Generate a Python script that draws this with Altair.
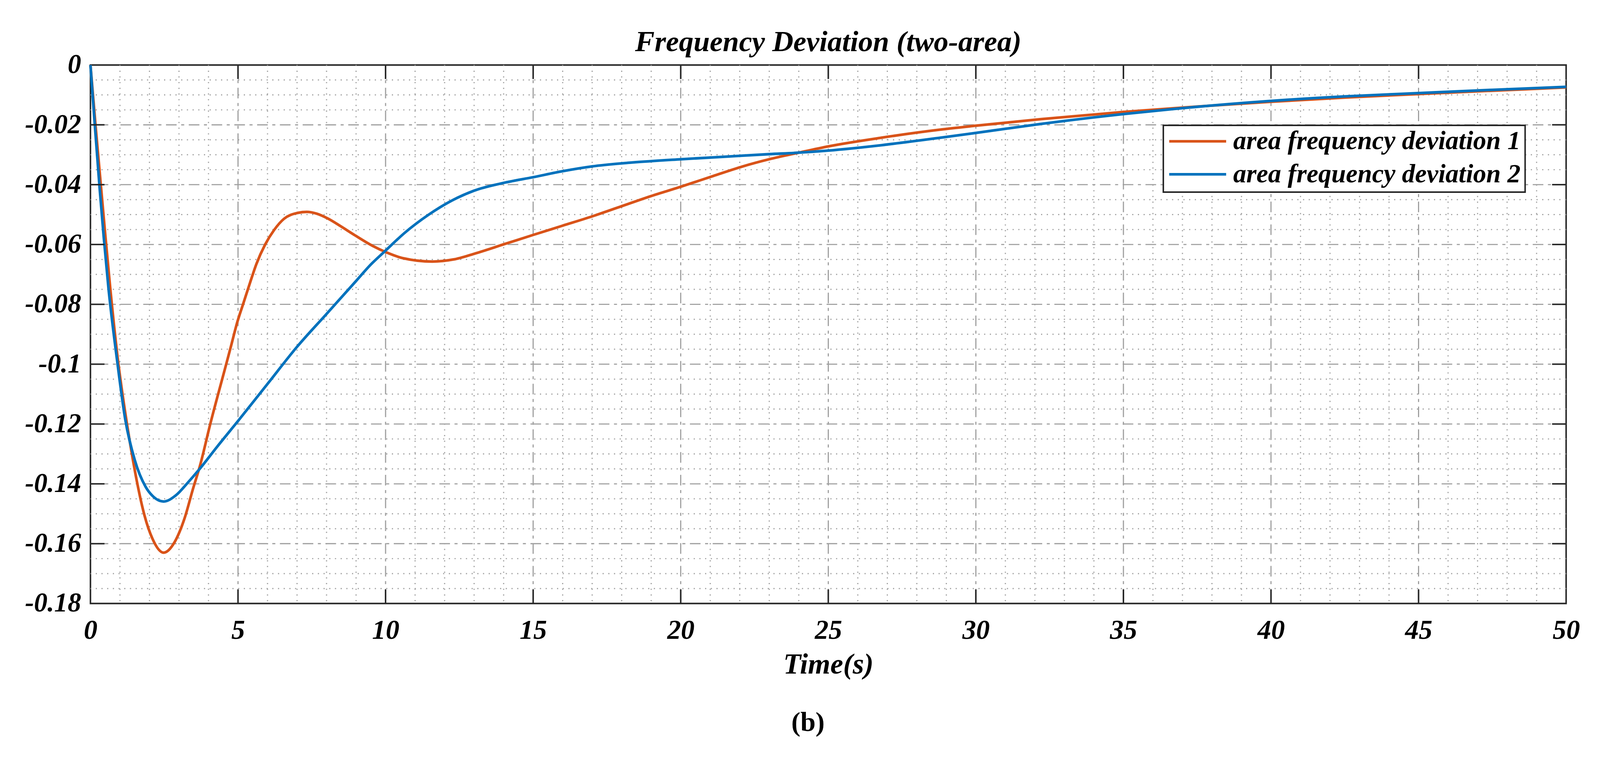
import altair as alt
import pandas as pd

# ---------------- data ----------------
t1 = [0, 0.18, 0.36, 0.5, 0.67, 0.93, 1.23, 1.43, 1.57, 1.83,
      2.1, 2.48, 2.85, 3.19, 3.48, 3.71, 4.06, 4.6, 4.78, 4.98,
      5.17, 5.41, 5.62, 5.92, 6.22, 6.56, 6.99, 7.33, 7.67, 8.06,
      8.48, 8.91, 9.55, 10.0, 10.6, 11.58, 12.3, 13.0, 14.05, 15,
      16, 17, 18, 19, 20, 21.1, 22.1, 23, 24, 25,
      26.8, 28.8, 30, 32.2, 35, 37.5, 40, 42.5, 45, 47.5, 50]
v1 = [0, -0.0210, -0.0410, -0.0565, -0.0745, -0.0985, -0.1195, -0.1315, -0.1390, -0.1505,
      -0.1583, -0.1630, -0.1595, -0.1515, -0.1415, -0.1340, -0.1200, -0.1000, -0.0933, -0.0858,
      -0.0800, -0.0727, -0.0666, -0.0600, -0.0552, -0.0514, -0.0495, -0.0491, -0.0497, -0.0514,
      -0.0539, -0.0566, -0.0604, -0.0625, -0.0646, -0.0657, -0.0650, -0.0631, -0.0598, -0.0568,
      -0.0537, -0.0506, -0.0472, -0.0438, -0.0407, -0.0371, -0.0339, -0.0315, -0.0293, -0.0272,
      -0.0243, -0.0216, -0.0203, -0.0181, -0.0157, -0.0139, -0.0123, -0.0109, -0.0097, -0.0086, -0.0075]

t2 = [0, 0.14, 0.31, 0.45, 0.61, 0.9, 1.18, 1.5, 1.87, 2.1,
      2.48, 2.9, 3.3, 3.71, 4.3, 5.0, 6.0, 7.0, 8.0, 8.5,
      9.0, 9.5, 9.95, 10.66, 11.45, 12.23, 13.0, 14.05, 15, 16,
      17, 18.35, 20, 21.6, 23, 24, 25, 26.8, 28.8, 30,
      32.2, 35, 36.7, 40, 42.5, 45, 47.5, 50]
v2 = [0, -0.0190, -0.0410, -0.0575, -0.0745, -0.0985, -0.1185, -0.1320, -0.1410, -0.1440,
      -0.1459, -0.1438, -0.1396, -0.1349, -0.1275, -0.1190, -0.1066, -0.0942, -0.0832, -0.0777,
      -0.0722, -0.0667, -0.0625, -0.0560, -0.0501, -0.0454, -0.0420, -0.0393, -0.0375, -0.0355,
      -0.0339, -0.0326, -0.0315, -0.0306, -0.0298, -0.0293, -0.0286, -0.0268, -0.0243, -0.0227,
      -0.0197, -0.0164, -0.0147, -0.0120, -0.0105, -0.0094, -0.0083, -0.0073]

series_names = ["area frequency deviation 1", "area frequency deviation 2"]
series_colors = ["#D95319", "#0072BD"]

x_major = [0, 5, 10, 15, 20, 25, 30, 35, 40, 45, 50]
y_major = [0, -0.02, -0.04, -0.06, -0.08, -0.1, -0.12, -0.14, -0.16, -0.18]
x_minor = [t for t in range(1, 50) if t % 5 != 0]
y_minor = [round(-0.005 * k, 3) for k in range(1, 36) if k % 4 != 0]

title_text = "Frequency Deviation (two-area)"
x_title = "Time(s)"
caption = "(b)"

# ---------------- layout ----------------
W, H = 3887, 1419
TICK = 37
FONT = "Liberation Serif"
AXIS_COLOR = "#262626"
GRID_COLOR = "#9e9e9e"

df = pd.DataFrame({
    "t": t1 + t2,
    "v": v1 + v2,
    "series": [series_names[0]] * len(t1) + [series_names[1]] * len(t2),
})

xs = alt.Scale(domain=[0, 50], nice=False, zero=False)
ys = alt.Scale(domain=[-0.18, 0], nice=False, zero=False)

x_axis = alt.Axis(values=x_major, labelExpr="'' + datum.value", title=x_title,
                  grid=False, ticks=False, domain=False,
                  labelFont=FONT, labelFontSize=72, labelFontStyle="italic",
                  labelFontWeight="bold", labelColor="black", labelPadding=36,
                  labelFlush=False, labelOverlap=False,
                  titleFont=FONT, titleFontSize=76, titleFontStyle="italic",
                  titleFontWeight="bold", titleColor="black", titlePadding=17)
y_axis = alt.Axis(values=y_major, labelExpr="'' + datum.value", title=None,
                  grid=False, ticks=False, domain=False,
                  labelFont=FONT, labelFontSize=71, labelFontStyle="italic",
                  labelFontWeight="bold", labelColor="black", labelPadding=25,
                  labelOverlap=False, labelFlush=False)

X = lambda: alt.X("t:Q", scale=xs, axis=x_axis)
Y = lambda: alt.Y("v:Q", scale=ys, axis=y_axis)

minor_x = alt.Chart(pd.DataFrame({"t": x_minor})).mark_rule(
    color=GRID_COLOR, strokeWidth=3, strokeDash=[3, 12]).encode(x=X())
minor_y = alt.Chart(pd.DataFrame({"v": y_minor})).mark_rule(
    color=GRID_COLOR, strokeWidth=3, strokeDash=[3, 12]).encode(y=Y())
major_x = alt.Chart(pd.DataFrame({"t": x_major[1:-1]})).mark_rule(
    color=GRID_COLOR, strokeWidth=3, strokeDash=[28, 12, 8, 12]).encode(x=X())
major_y = alt.Chart(pd.DataFrame({"v": y_major[1:-1]})).mark_rule(
    color=GRID_COLOR, strokeWidth=3, strokeDash=[28, 12, 8, 12]).encode(y=Y())

xt = pd.DataFrame({"t": x_major[1:-1]})
yt = pd.DataFrame({"v": y_major[1:-1]})
tick_b = alt.Chart(xt).mark_rule(color=AXIS_COLOR, strokeWidth=4).encode(
    x=X(), y=alt.value(H), y2=alt.value(H - TICK))
tick_t = alt.Chart(xt).mark_rule(color=AXIS_COLOR, strokeWidth=4).encode(
    x=X(), y=alt.value(0), y2=alt.value(TICK))
tick_l = alt.Chart(yt).mark_rule(color=AXIS_COLOR, strokeWidth=4).encode(
    y=Y(), x=alt.value(0), x2=alt.value(TICK))
tick_r = alt.Chart(yt).mark_rule(color=AXIS_COLOR, strokeWidth=4).encode(
    y=Y(), x=alt.value(W - TICK), x2=alt.value(W))

lines = alt.Chart(df).mark_line(strokeWidth=7, interpolate="monotone").encode(
    x=X(), y=Y(),
    color=alt.Color("series:N",
                    scale=alt.Scale(domain=series_names, range=series_colors),
                    legend=alt.Legend(title=None, orient="none", legendX=2826, legendY=159,
                                      symbolType="stroke", symbolSize=22500,
                                      symbolStrokeWidth=7, labelFont=FONT,
                                      labelFontSize=69, labelFontStyle="italic",
                                      labelFontWeight="bold", labelColor="black",
                                      labelOffset=15, labelLimit=2000,
                                      fillColor="white", strokeColor=AXIS_COLOR,
                                      padding=12, rowPadding=18, clipHeight=60)),
    order=alt.Order("t:Q"),
)

title_mark = alt.Chart(pd.DataFrame({"label": [title_text]})).mark_text(
    font=FONT, fontSize=77, fontStyle="italic", fontWeight="bold", align="center",
    baseline="alphabetic", color="black").encode(
    text="label:N", x=alt.value(W / 2), y=alt.value(-36))

cap = alt.Chart(pd.DataFrame({"label": [caption]})).mark_text(
    font=FONT, fontSize=72, fontWeight="bold", align="center",
    baseline="alphabetic", color="black").encode(
    text="label:N", x=alt.value(1890), y=alt.value(1755))

chart = alt.layer(minor_x, minor_y, major_x, major_y,
                  lines, tick_b, tick_t, tick_l, tick_r, title_mark, cap).properties(
    width=W, height=H,
    padding={"left": 230, "top": 135, "right": 81, "bottom": 384},
    autosize=alt.AutoSizeParams(type="none"),
    background="white",
).configure_view(stroke=AXIS_COLOR, strokeWidth=4).configure_legend(strokeWidth=4)

chart.save("out.html", embed_options={"renderer": "svg", "actions": False})
